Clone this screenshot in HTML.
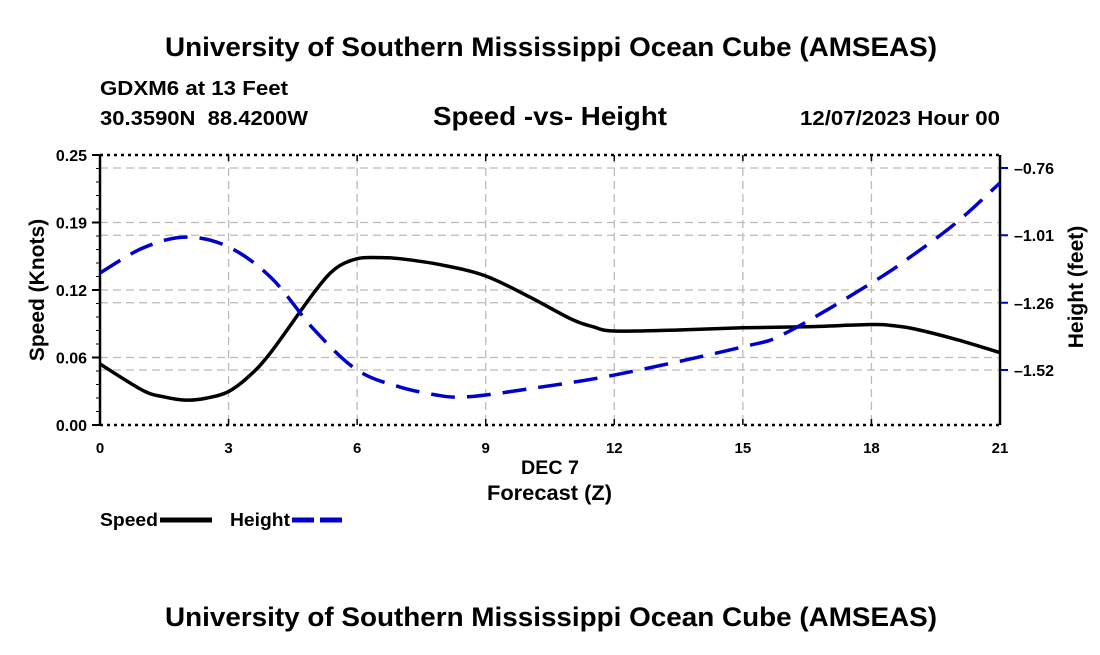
<!DOCTYPE html>
<html><head><meta charset="utf-8"><style>
body{margin:0;background:#fff;font-family:"Liberation Sans",sans-serif;}
svg text{font-family:"Liberation Sans",sans-serif;font-weight:bold;}
</style></head><body>
<svg id="c" width="1100" height="650" xmlns="http://www.w3.org/2000/svg">
<text x="165" y="56" font-size="27" textLength="772" lengthAdjust="spacingAndGlyphs">University of Southern Mississippi Ocean Cube (AMSEAS)</text>
<text x="100" y="95" font-size="20" textLength="188" lengthAdjust="spacingAndGlyphs">GDXM6 at 13 Feet</text>
<text x="100" y="125" font-size="20" textLength="208" lengthAdjust="spacingAndGlyphs" xml:space="preserve">30.3590N  88.4200W</text>
<text x="433" y="125" font-size="26" textLength="234" lengthAdjust="spacingAndGlyphs">Speed -vs- Height</text>
<text x="800" y="125" font-size="20" textLength="200" lengthAdjust="spacingAndGlyphs">12/07/2023 Hour 00</text>
<text x="521" y="474" font-size="19" textLength="58" lengthAdjust="spacingAndGlyphs">DEC 7</text>
<text x="487" y="500" font-size="21" textLength="125" lengthAdjust="spacingAndGlyphs">Forecast (Z)</text>
<text transform="translate(44,290) rotate(-90)" font-size="21" text-anchor="middle">Speed (Knots)</text>
<text transform="translate(1083,287) rotate(-90)" font-size="21" text-anchor="middle">Height (feet)</text>
<g>
<text x="100" y="526" font-size="18" textLength="58" lengthAdjust="spacingAndGlyphs">Speed</text>
<line x1="160" y1="520" x2="212" y2="520" stroke="#000" stroke-width="5"/>
<text x="230" y="526" font-size="18" textLength="60" lengthAdjust="spacingAndGlyphs">Height</text>
<line x1="292" y1="520" x2="342" y2="520" stroke="#0000cc" stroke-width="5" stroke-dasharray="22,6"/>
</g>
<text x="165" y="626" font-size="27" textLength="772" lengthAdjust="spacingAndGlyphs">University of Southern Mississippi Ocean Cube (AMSEAS)</text>
<g id="plot"></g>
</svg>
<script>
const hours=[0,3,6,9,12,15,18,21];
const xTickLabels=["0","3","6","9","12","15","18","21"];
const speedTicks=[0,0.0625,0.125,0.1875,0.25];
const speedTickLabels=["0.00","0.06","0.12","0.19","0.25"];
const heightTicks=[-0.76,-1.013,-1.267,-1.52];
const heightTickLabels=["-0.76","-1.01","-1.26","-1.52"];
const speedHours=[0,1,1.5,2,2.5,3,3.5,4,5,5.5,6,6.5,7,8,9,10,11,11.5,12,13.5,15,16.5,18,18.5,19,20,21];
const speedVals=[0.0565,0.032,0.026,0.023,0.025,0.031,0.046,0.068,0.123,0.145,0.154,0.155,0.154,0.148,0.138,0.119,0.098,0.091,0.087,0.088,0.090,0.091,0.093,0.092,0.089,0.079,0.067];
const heightHours=[0,1,2,3,4,5,6,7,8,8.5,9,10,12,15,16,18,19,20,21];
const heightVals=[-1.155,-1.061,-1.02,-1.057,-1.174,-1.369,-1.52,-1.584,-1.618,-1.621,-1.614,-1.591,-1.539,-1.433,-1.381,-1.193,-1.084,-0.963,-0.816];
const X0=100,X1=1000,Y0=155,Y1=425;
const xs=h=>X0+(h/21)*(X1-X0);
const ysL=v=>Y1-(v/0.25)*(Y1-Y0);
const hTop=-0.76+13*0.003762,hBot=-1.52-55*0.003762;
const ysR=v=>Y1-(v-hBot)/(hTop-hBot)*(Y1-Y0);
const g=document.getElementById('plot');const NS="http://www.w3.org/2000/svg";
function mk(t,a,p){const e=document.createElementNS(NS,t);for(const k in a)e.setAttribute(k,a[k]);(p||g).appendChild(e);return e;}
hours.forEach((h,i)=>{if(i>0&&i<hours.length-1){const l=mk('line',{x1:xs(h),x2:xs(h),y1:Y0,y2:Y1,stroke:'#bbb','stroke-width':1.3,'stroke-dasharray':'8,5'});

}
const t=mk('text',{x:xs(h),y:453,'font-size':15,'text-anchor':'middle'});t.textContent=xTickLabels[i];


mk('line',{x1:xs(h),x2:xs(h),y1:Y0,y2:Y0+6,stroke:'#000','stroke-width':1.5});
mk('line',{x1:xs(h),x2:xs(h),y1:Y1,y2:Y1-6,stroke:'#000','stroke-width':1.5});});
speedTicks.forEach((v,i)=>{if(i>0&&i<4){const l=mk('line',{x1:X0,x2:X1,y1:ysL(v),y2:ysL(v),stroke:'#bbb','stroke-width':1.3,'stroke-dasharray':'8,5'});

}
mk('line',{x1:X0-8,x2:X0,y1:ysL(v),y2:ysL(v),stroke:'#000','stroke-width':2});
const t=mk('text',{x:X0-13,y:ysL(v)+6,'font-size':16,'text-anchor':'end'});t.textContent=speedTickLabels[i];

});
for(let v=0;v<=0.25;v+=0.0125)mk('line',{x1:X0-4,x2:X0,y1:ysL(v),y2:ysL(v),stroke:'#000','stroke-width':1});
heightTicks.forEach((v,i)=>{const l=mk('line',{x1:X0,x2:X1,y1:ysR(v),y2:ysR(v),stroke:'#bbb','stroke-width':1.3,'stroke-dasharray':'8,5'});


mk('line',{x1:X1,x2:X1+8,y1:ysR(v),y2:ysR(v),stroke:'#0000cc','stroke-width':2});
const t=mk('text',{x:X1+14,y:ysR(v)+6,'font-size':16});t.textContent=heightTickLabels[i].replace('-','\u2013');

});
mk('line',{x1:X0,x2:X1,y1:Y0,y2:Y0,stroke:'#000','stroke-width':2.5,'stroke-dasharray':'3,4'});
mk('line',{x1:X0,x2:X1,y1:Y1,y2:Y1,stroke:'#000','stroke-width':2.5,'stroke-dasharray':'3,4'});
mk('line',{x1:X0,x2:X0,y1:Y0,y2:Y1,stroke:'#000','stroke-width':2.5});
mk('line',{x1:X1,x2:X1,y1:Y0,y2:Y1,stroke:'#000','stroke-width':2.5});
function smooth(pts){let d='M'+pts[0][0]+','+pts[0][1];for(let i=0;i<pts.length-1;i++){const p0=pts[i-1]||pts[i],p1=pts[i],p2=pts[i+1],p3=pts[i+2]||p2;
const c1=[p1[0]+(p2[0]-p0[0])/6,p1[1]+(p2[1]-p0[1])/6],c2=[p2[0]-(p3[0]-p1[0])/6,p2[1]-(p3[1]-p1[1])/6];
d+=`C${c1[0]},${c1[1]} ${c2[0]},${c2[1]} ${p2[0]},${p2[1]}`;}return d;}
const sp=mk('path',{d:smooth(speedHours.map((h,i)=>[xs(h),ysL(speedVals[i])])),fill:'none',stroke:'#000','stroke-width':3.5});


const hp=mk('path',{d:smooth(heightHours.map((h,i)=>[xs(h),ysR(heightVals[i])])),fill:'none',stroke:'#0000cc','stroke-width':3.5,'stroke-dasharray':'24,12'});


</script>
</body></html>
